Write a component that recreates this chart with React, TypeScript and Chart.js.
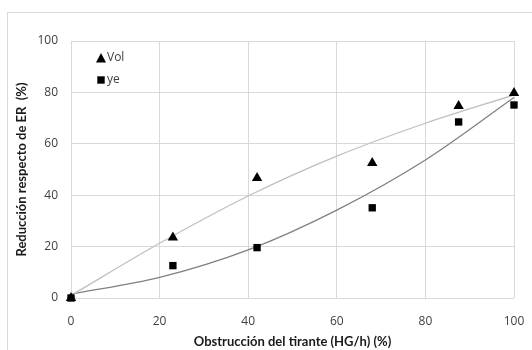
import React, { useEffect, useRef } from "react";
import { Chart, registerables } from "chart.js";

Chart.register(...registerables);

// Measured data points
const obstruction = [0, 23, 42, 68, 87.5, 100];
const volValues = [0, 23.5, 46.7, 52.5, 74.7, 79.8];
const yeValues = [0, 12.6, 19.6, 35.1, 68.5, 75.1];

// Trend lines, values
const trendX = [0, 20, 40, 60, 80, 100];
const volTrend = [1, 21.3, 39.7, 55.2, 68, 79];
const yeTrend = [1.5, 8, 18.7, 34.2, 53.7, 78];

const xTicks = [0, 20, 40, 60, 80, 100];
const xTitle = "Obstrucción del tirante (HG/h) (%)";
const yTitle = "Reducción respecto de ER  (%)";
const seriesNames = ["Vol", "ye"];

const TICK_FONT = "'Open Sans', 'Noto Sans', sans-serif";
const TITLE_FONT = "Lato, 'Open Sans', sans-serif";

const legendPlugin = {
  id: "insideLegend",
  afterDraw(chart: any) {
    const ctx = chart.ctx;
    const area = chart.chartArea;
    ctx.save();
    const x0 = area.left + 30;
    const rows = [area.top + 17, area.top + 39];
    ctx.fillStyle = "#000";
    const tcx = x0, tcy = rows[0];
    ctx.beginPath();
    ctx.moveTo(tcx, tcy - 5);
    ctx.lineTo(tcx + 5, tcy + 4.5);
    ctx.lineTo(tcx - 5, tcy + 4.5);
    ctx.closePath();
    ctx.fill();
    ctx.fillRect(x0 - 3.7, rows[1] - 3.7, 7.4, 7.4);
    ctx.font = `12px ${TICK_FONT}`;
    ctx.fillStyle = "#404040";
    ctx.textBaseline = "middle";
    ctx.textAlign = "left";
    ctx.fillText(seriesNames[0], x0 + 6, rows[0]);
    ctx.fillText(seriesNames[1], x0 + 6, rows[1]);
    ctx.restore();
  },
};

export default function App() {
  const ref = useRef<HTMLCanvasElement | null>(null);

  useEffect(() => {
    if (!ref.current) return;
    const toPts = (xs: number[], ys: number[]) => xs.map((x, i) => ({ x, y: ys[i] }));
    const chart = new Chart(ref.current, {
      type: "scatter",
      data: {
        datasets: [
          {
            label: seriesNames[0],
            data: toPts(obstruction, volValues),
            pointStyle: "triangle",
            pointRadius: 6,
            backgroundColor: "#000",
            borderColor: "#000",
            borderWidth: 0,
            clip: false,
            order: 1,
          },
          {
            label: seriesNames[1],
            data: toPts(obstruction, yeValues),
            pointStyle: "rect",
            pointRadius: 5.2,
            backgroundColor: "#000",
            borderColor: "#000",
            borderWidth: 0,
            clip: false,
            order: 1,
          },
          {
            label: "trendVol",
            data: toPts(trendX, volTrend),
            showLine: true,
            pointRadius: 0,
            borderColor: "#bfbfbf",
            borderWidth: 1.3,
            cubicInterpolationMode: "monotone",
            order: 2,
          } as any,
          {
            label: "trendYe",
            data: toPts(trendX, yeTrend),
            showLine: true,
            pointRadius: 0,
            borderColor: "#808080",
            borderWidth: 1.3,
            cubicInterpolationMode: "monotone",
            order: 2,
          } as any,
        ],
      },
      options: {
        animation: false,
        responsive: false,
        layout: { padding: { left: 0, top: 41, right: 18, bottom: 0 } },
        plugins: {
          legend: { display: false },
          tooltip: { enabled: false },
        },
        scales: {
          x: {
            type: "linear",
            min: 0,
            max: 100,
            afterBuildTicks: (scale: any) => {
              scale.ticks = xTicks.map((v) => ({ value: v }));
            },
            afterFit: (scale: any) => {
              scale.height = 52;
              scale.paddingLeft = 0;
              scale.paddingRight = 0;
            },
            grid: { color: "#d9d9d9", drawTicks: false, lineWidth: 1 },
            border: { display: false },
            ticks: {
              padding: 16,
              color: "#404040",
              font: { family: TICK_FONT, size: 12 },
            },
            title: {
              display: true,
              text: xTitle,
              color: "#1a1a1a",
              font: { family: TITLE_FONT, size: 13, weight: "bold" },
              padding: { top: 1, bottom: 0 },
            },
          },
          y: {
            type: "linear",
            min: 0,
            max: 100,
            ticks: {
              stepSize: 20,
              padding: 13,
              color: "#404040",
              font: { family: TICK_FONT, size: 12 },
            },
            afterFit: (scale: any) => {
              scale.width = 71;
              scale.paddingTop = 0;
              scale.paddingBottom = 0;
            },
            grid: { color: "#d9d9d9", drawTicks: false, lineWidth: 1 },
            border: { display: false },
            title: {
              display: true,
              text: yTitle,
              color: "#1a1a1a",
              font: { family: TITLE_FONT, size: 13, weight: "bold" },
              padding: { top: 14, bottom: 0 },
            },
          },
        },
      },
      plugins: [legendPlugin],
    } as any);
    return () => chart.destroy();
  }, []);

  return (
    <div
      style={{
        position: "fixed",
        left: 0,
        top: 0,
        width: 532,
        height: 350,
        overflow: "hidden",
        background: "#fff",
      }}
    >
      <div
        style={{
          position: "absolute",
          left: 7,
          top: 12,
          width: 600,
          height: 400,
          border: "1px solid #d9d9d9",
        }}
      />
      <canvas
        ref={ref}
        width={532}
        height={350}
        style={{ position: "absolute", left: 0, top: 0 }}
      />
    </div>
  );
}
